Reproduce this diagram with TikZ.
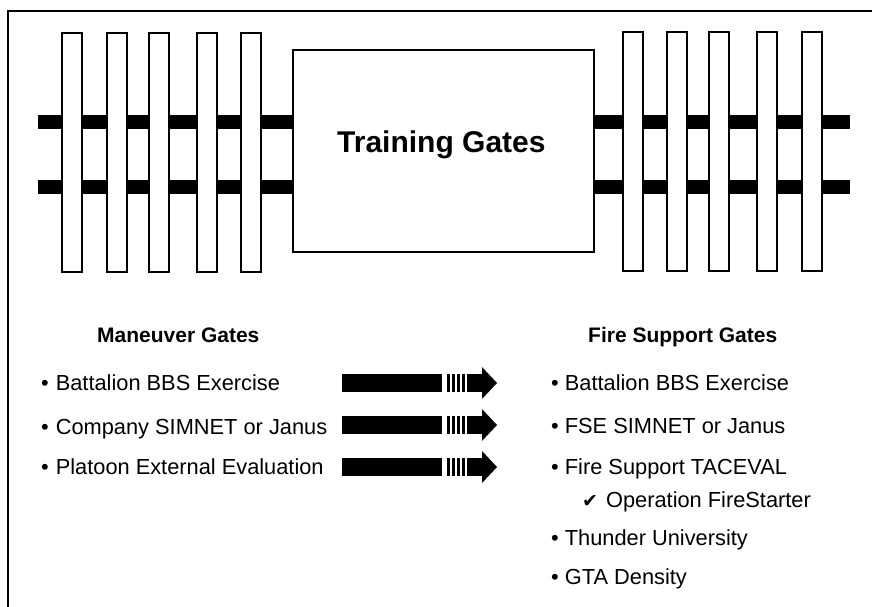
\documentclass[tikz,border=0pt]{standalone}
\usepackage{fontspec}
\setmainfont{Liberation Sans}
\newfontfamily\symfont{DejaVu Sans}
\usepackage{tikz}
\usetikzlibrary{positioning}

\begin{document}
\begin{tikzpicture}[
    x=1pt, y=-1pt,
    gate/.style={rectangle, draw, line width=1.2pt, fill=white, minimum width=20pt, minimum height=239pt, inner sep=0pt},
    rail/.style={rectangle, fill=black, minimum width=255pt, minimum height=14pt, inner sep=0pt},
    hub/.style={rectangle, draw, line width=1.5pt, fill=white, inner sep=0pt},
    heading/.style={anchor=base west, inner sep=0pt, font=\bfseries\fontsize{21}{24}\selectfont},
    item/.style={anchor=base west, inner sep=0pt, font=\fontsize{21.8}{24}\selectfont}
]
    \useasboundingbox (0,0) rectangle (872,607);
    % frame
    \draw[line width=2.5pt] (8,607) -- (8,11) -- (872,11);

    % rails behind the gates
    \node[rail] (lrail1) at (165.5,122) {};
    \node[rail] (lrail2) at (165.5,187) {};
    \node[rail] (rrail1) at (722.5,122) {};
    \node[rail] (rrail2) at (722.5,187) {};

    \node[hub, minimum width=301pt, minimum height=202pt] (hub) at (443.5,151) {};
    \node[anchor=base west, inner sep=0pt, font=\bfseries\fontsize{30}{34}\selectfont] (hubtext) at (337,152) {Training Gates};

    % gates
    \foreach \x [count=\i] in {72,117,159,207,251}
        \node[gate] (lgate\i) at (\x,152.5) {};
    \foreach \x [count=\i] in {633,677,719,767,812}
        \node[gate] (rgate\i) at (\x,151.5) {};

    % lists
    \node[heading] (mtitle) at (97,342) {Maneuver Gates};
    \node[item] (m1) at (41,390) {•\hspace{7pt}Battalion BBS Exercise};
    \node[item] (m2) at (41,434) {•\hspace{7pt}Company SIMNET or Janus};
    \node[item] (m3) at (41,474) {•\hspace{7pt}Platoon External Evaluation};

    \node[heading] (ftitle) at (588,342) {Fire Support Gates};
    \node[item] (f1) at (551,390) {•\ Battalion BBS Exercise};
    \node[item] (f2) at (551,433) {•\ FSE SIMNET or Janus};
    \node[item] (f3) at (551,474.5) {•\ Fire Support TACEVAL};
    \node[item] (f4) at (582,507) {{\symfont\fontsize{19}{22}\selectfont ✔}\hspace{8pt}Operation FireStarter};
    \node[item] (f5) at (551,545) {•\ Thunder University};
    \node[item] (f6) at (551,584) {•\ GTA Density};

    % striped arrows
    \foreach \y [count=\i] in {383,425,467} {
        \coordinate (tail\i) at (342,\y);
        \fill (tail\i) ++(0,-9) rectangle ++(100,18);
        \foreach \s in {105,110,115,120}
            \fill (tail\i) ++(\s,-9) rectangle ++(2.5,18);
        \fill (tail\i) ++(125,-9) rectangle ++(15.5,18);
        \fill (tail\i) ++(140,-16) -- ++(15,16) -- ++(-15,16) -- cycle;
    }
\end{tikzpicture}
\end{document}
